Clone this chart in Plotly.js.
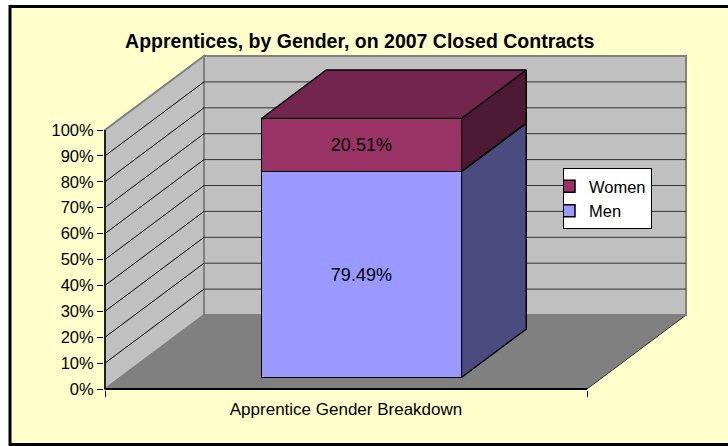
<!DOCTYPE html>
<html>
<head>
<meta charset="utf-8">
<script src="https://cdn.plot.ly/plotly-3.0.1.min.js"></script>
<style>html,body{margin:0;padding:0;background:#fff;overflow:hidden;}#chart{width:728px;height:446px;}</style>
</head>
<body>
<div id="chart"></div>
<script>
// ---- data ----
const categories = ['Apprentice Gender Breakdown'];
const seriesNames = ['Men', 'Women'];
const menValues = [79.49];
const womenValues = [20.51];
const yTickValues = [0, 10, 20, 30, 40, 50, 60, 70, 80, 90, 100];
const chartTitle = 'Apprentices, by Gender, on 2007 Closed Contracts';

// ---- styling / geometry ----
const FONT = 'Liberation Sans, Arial, sans-serif';
const frontColors = ['#9999FF', '#993366'];
const sideColors = ['#4B4B7F', '#4C1A33'];
const topColor = '#72264E';
const W = 728, H = 446;
const M = {l: 104, r: 36, t: 50, b: 56};
const plotW = W - M.l - M.r, plotH = H - M.t - M.b;
const pxPerCat = 482, pxPerPct = 2.59;
const x0 = -0.5 - 1 / pxPerCat;
const xRange = [x0, x0 + plotW / pxPerCat];
const y0 = -1 / pxPerPct;
const yRange = [y0, y0 + plotH / pxPerPct];
const DX = 99 / pxPerCat, DY = 74 / pxPerPct;   // full depth offset
const dFront = 11.5 / 74, dBack = 60 / 74;      // bar depth span
const barWidth = 200 / pxPerCat, hw = barWidth / 2;
const vMax = yTickValues[yTickValues.length - 1];

function P(u, v, d) { return [u + d * DX, v + d * DY]; }
function pathOf(pts) {
  return 'M' + pts.map(p => p[0] + ',' + p[1]).join('L') + 'Z';
}
function lineOf(a, b) { return 'M' + a[0] + ',' + a[1] + 'L' + b[0] + ',' + b[1]; }
function pxX(px) { return (px - M.l) / plotW; }
function pxY(py) { return (H - M.b - py) / plotH; }

const shapes = [];
// outer chart area
shapes.push({type: 'rect', xref: 'paper', yref: 'paper', layer: 'below',
  x0: pxX(10), x1: pxX(745), y0: pxY(444.5), y1: pxY(6.5),
  fillcolor: '#FFFFCC', line: {color: '#000', width: 3}});
// floor
shapes.push({type: 'path', xref: 'x', yref: 'y', layer: 'below',
  path: pathOf([P(-0.5, 0, 0), P(0.5, 0, 0), P(0.5, 0, 1), P(-0.5, 0, 1)]),
  fillcolor: '#808080', line: {color: '#303030', width: 1}});
// back wall
shapes.push({type: 'path', xref: 'x', yref: 'y', layer: 'below',
  path: pathOf([P(-0.5, 0, 1), P(0.5, 0, 1), P(0.5, vMax, 1), P(-0.5, vMax, 1)]),
  fillcolor: '#C0C0C0', line: {color: '#808080', width: 2}});
// side wall
shapes.push({type: 'path', xref: 'x', yref: 'y', layer: 'below',
  path: pathOf([P(-0.5, 0, 0), P(-0.5, 0, 1), P(-0.5, vMax, 1), P(-0.5, vMax, 0)]),
  fillcolor: '#C0C0C0', line: {color: '#808080', width: 2}});
// gridlines
yTickValues.forEach(v => {
  if (v === 0 || v === vMax) return;
  shapes.push({type: 'path', xref: 'x', yref: 'y', layer: 'below',
    path: lineOf(P(-0.5, v, 0), P(-0.5, v, 1)), line: {color: '#000', width: 1}});
  shapes.push({type: 'path', xref: 'x', yref: 'y', layer: 'below',
    path: lineOf(P(-0.5, v, 1), P(0.5, v, 1)), line: {color: '#333', width: 1}});
});
// front floor edge and value axis line
shapes.push({type: 'path', xref: 'x', yref: 'y', layer: 'below',
  path: lineOf(P(-0.5, 0, 0), P(0.5, 0, 0)), line: {color: '#000', width: 2}});
shapes.push({type: 'path', xref: 'x', yref: 'y', layer: 'below',
  path: lineOf(P(-0.5, 0, 0), P(-0.5, vMax, 0)), line: {color: '#000', width: 1.5}});

// ---- traces ----
const traces = [];
const seriesVals = [menValues, womenValues];
// 3D side/top faces, computed from the stacked values
let cum = 0;
seriesVals.forEach((vals, i) => {
  const lo = cum, hi = cum + vals[0];
  const pts = [P(hw, lo, dFront), P(hw, lo, dBack), P(hw, hi, dBack), P(hw, hi, dFront), P(hw, lo, dFront)];
  traces.push({type: 'scatter', mode: 'lines', fill: 'toself', xaxis: 'x', yaxis: 'y',
    x: pts.map(p => p[0]), y: pts.map(p => p[1]),
    fillcolor: sideColors[i], line: {color: '#000', width: 1.5},
    showlegend: false, hoverinfo: 'skip'});
  cum = hi;
});
{
  const t = cum;
  const pts = [P(-hw, t, dFront), P(hw, t, dFront), P(hw, t, dBack), P(-hw, t, dBack), P(-hw, t, dFront)];
  traces.push({type: 'scatter', mode: 'lines', fill: 'toself', xaxis: 'x', yaxis: 'y',
    x: pts.map(p => p[0]), y: pts.map(p => p[1]),
    fillcolor: topColor, line: {color: '#000', width: 1.5},
    showlegend: false, hoverinfo: 'skip'});
}
// front faces: stacked bars
seriesVals.forEach((vals, i) => {
  traces.push({type: 'bar', name: seriesNames[i], x: categories, y: vals,
    xaxis: 'x2', yaxis: 'y2', width: barWidth,
    marker: {color: frontColors[i], line: {color: '#000', width: 1.5}},
    texttemplate: '%{y:.2f}%', textposition: 'inside', insidetextanchor: 'middle',
    textangle: 0, constraintext: 'none',
    textfont: {family: FONT, size: 18, color: '#000'},
    hoverinfo: 'skip'});
});

const layout = {
  width: W, height: H,
  margin: M,
  paper_bgcolor: '#FFFFFF', plot_bgcolor: 'rgba(0,0,0,0)',
  barmode: 'stack', hovermode: false,
  title: {text: chartTitle, xref: 'container', yref: 'container', x: 359.7 / W, xanchor: 'center',
    y: 1 - 41.5 / H, yanchor: 'middle',
    font: {family: FONT, size: 19.5, weight: 'bold', color: '#000'}},
  xaxis: {type: 'linear', range: xRange, showgrid: false, zeroline: false, showline: false,
    tickvals: [0], ticktext: categories, ticks: '', ticklabelstandoff: 7,
    minor: {tickvals: [-0.5, 0.5], ticks: 'outside', ticklen: 6, tickcolor: '#000', tickwidth: 1, showgrid: false},
    tickfont: {family: FONT, size: 17, color: '#000'}, fixedrange: true},
  yaxis: {range: yRange, showgrid: false, zeroline: false, showline: false,
    tickvals: yTickValues, ticktext: yTickValues.map(v => v + '%'),
    ticks: 'outside', ticklen: 6, tickcolor: '#000', tickwidth: 1,
    tickfont: {family: FONT, size: 16.5, color: '#000'}, fixedrange: true},
  xaxis2: {type: 'category', overlaying: 'x', anchor: 'y2', visible: false,
    range: [xRange[0] - dFront * DX, xRange[1] - dFront * DX], fixedrange: true},
  yaxis2: {overlaying: 'y', anchor: 'x2', visible: false,
    range: [yRange[0] - dFront * DY, yRange[1] - dFront * DY], fixedrange: true},
  legend: {x: pxX(563), y: pxY(168), xanchor: 'left', yanchor: 'top',
    bgcolor: '#FFFFFF', bordercolor: '#000', borderwidth: 1,
    traceorder: 'reversed', itemwidth: 30, indentation: -15,
    font: {family: FONT, size: 16.5, color: '#000'}},
  shapes: shapes,
  showlegend: true
};

Plotly.newPlot('chart', traces, layout, {displayModeBar: false, staticPlot: true});
</script>
</body>
</html>
